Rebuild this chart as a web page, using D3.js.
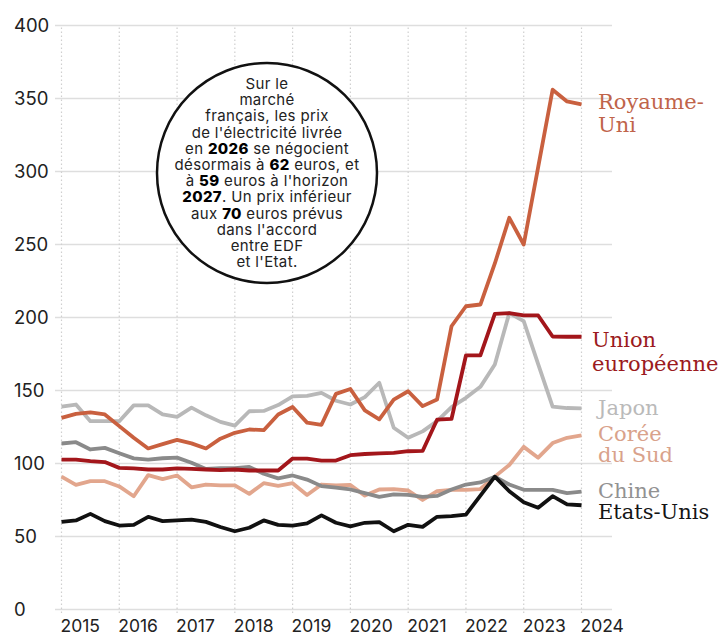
<!DOCTYPE html>
<html><head><meta charset="utf-8">
<script src="https://cdn.jsdelivr.net/npm/d3@7"></script>
<style>body{margin:0;background:#fff}</style>
</head><body>
<svg id="c" width="725" height="637"></svg>
<script>
// ---- data ----
const startYear = 2015; // quarterly series, first point = 2015 Q1
const yearTicks = [2015, 2016, 2017, 2018, 2019, 2020, 2021, 2022, 2023, 2024];
const valueTicks = [0, 50, 100, 150, 200, 250, 300, 350, 400];

const royaumeUni = [131.3,134,135,133.6,125.6,117.6,110.3,113.3,116.2,113.8,110.3,117,121,123.3,122.8,133.6,138.7,128,126.5,147.7,151,136.4,130.3,143.8,149.5,139.3,143.8,194,207.7,208.9,237,268.3,250,303,356,348,346];
const unionEuropeenne = [102.7,102.7,101.6,101,97,96.6,95.9,95.9,96.6,96.3,95.9,95.4,95.9,95.2,95.2,95.2,103.4,103.4,102,102,105.7,106.5,107,107.3,108.4,108.6,130,130.5,174,174,202.5,203,201.5,201.4,187,186.8,186.8];
const japon = [139,140.4,129,129,129,139.8,139.8,133.6,132,138.3,133,128.5,126,135.8,136,140,146,146.3,148.4,143,140.4,145.5,155.3,124.5,117.6,122,129,138.6,145,152.5,167.8,203,197.5,168,139,138,137.8];
const coreeDuSud = [91,85.3,87.9,87.9,84.3,77.6,92,89.3,91.8,83.7,85.6,85,85,79.2,86.5,84.7,86.5,78.4,85.6,85,85.3,78,82.2,82.5,81.5,75,81,82,82,82.5,91,99,111.4,104,114,117.6,119.2];
const chine = [113.7,114.6,109.6,110.7,107,103.5,102.7,103.6,104,100.5,96.3,96.8,96.8,97.7,93,89.8,91.8,89,84.5,83.5,82.2,79.7,77.2,78.8,78.5,77.2,77.8,82.2,85.6,87,91,85.6,82,82,82,79.7,80.7];
const etatsUnis = [60,61,65.5,60.5,57.5,58,63.5,60.5,61,61.5,60,56.5,53.6,56,61,58,57.5,59,64.5,59.4,57,59.4,59.8,53.6,58,56.6,63.5,64,65,78,91,81,73.5,69.7,77.6,72,71.4];

const annotationLines = [
  [["Sur le", false]],
  [["marché", false]],
  [["français, les prix", false]],
  [["de l'électricité livrée", false]],
  [["en ", false], ["2026", true], [" se négocient", false]],
  [["désormais à ", false], ["62", true], [" euros, et", false]],
  [["à ", false], ["59", true], [" euros à l'horizon", false]],
  [["2027", true], [". Un prix inférieur", false]],
  [["aux ", false], ["70", true], [" euros prévus", false]],
  [["dans l'accord", false]],
  [["entre EDF", false]],
  [["et l'Etat.", false]]
];

// ---- series styling ----
const series = [
  {name: ["Japon"], values: japon, color: "#b8b8b8", label: "#bababa", dy: 7, lx: 598},
  {name: ["Corée", "du Sud"], values: coreeDuSud, color: "#e2a68d", label: "#d9a28b", dy: 6, lx: 598, lh: 21},
  {name: ["Chine"], values: chine, color: "#8a8a8a", label: "#929292", dy: 6, lx: 598},
  {name: ["Royaume-", "Uni"], values: royaumeUni, color: "#c9603f", label: "#c0644a", dy: 5, lx: 598, lh: 23},
  {name: ["Union", "européenne"], values: unionEuropeenne, color: "#a3161b", label: "#9b1a20", dy: 10, lx: 592, lh: 24},
  {name: ["Etats-Unis"], values: etatsUnis, color: "#111111", label: "#151515", dy: 14, lx: 598}
];

const svg = d3.select("#c");
const x = d3.scaleLinear().domain([2015, 2024]).range([61.5, 581.5]);
const y = d3.scaleLinear().domain([0, 400]).range([609.5, 25.5]);
const tOf = i => startYear + i / 4;

// horizontal gridlines
svg.append("g").selectAll("line").data(valueTicks).join("line")
  .attr("x1", 55).attr("x2", 612)
  .attr("y1", d => y(d)).attr("y2", d => y(d))
  .attr("stroke", "#dedede").attr("stroke-width", 1.5);

// vertical dotted gridlines
svg.append("g").selectAll("line").data(yearTicks).join("line")
  .attr("x1", d => x(d)).attr("x2", d => x(d))
  .attr("y1", y(400) + 2).attr("y2", y(0) + 4)
  .attr("stroke", "#cfcfcf").attr("stroke-width", 1.2)
  .attr("stroke-dasharray", "1.5,2.5");

// y tick labels
svg.append("g").selectAll("text").data(valueTicks).join("text")
  .attr("x", 14).attr("y", d => y(d) + 6.5)
  .attr("font-family", "Inter, 'Open Sans', sans-serif")
  .attr("font-size", 18.5).attr("fill", "#222")
  .text(d => d);

// x tick labels
svg.append("g").selectAll("text").data(yearTicks).join("text")
  .attr("x", d => x(d) - 1).attr("y", 632)
  .attr("font-family", "Inter, 'Open Sans', sans-serif")
  .attr("font-size", 17.5).attr("fill", "#222")
  .text(d => d);

// annotation circle
const ann = svg.append("g");
ann.append("circle").attr("cx", 267).attr("cy", 173).attr("r", 110)
  .attr("fill", "#fff").attr("stroke", "#111").attr("stroke-width", 2.5);
const at = ann.append("g").attr("font-family", "Inter, 'Open Sans', sans-serif")
  .attr("font-size", 15).attr("letter-spacing", 0.35).attr("fill", "#222").attr("text-anchor", "middle");
annotationLines.forEach((segs, i) => {
  const t = at.append("text").attr("x", 267).attr("y", 89 + i * 16.2);
  segs.forEach(([s, b]) => t.append("tspan").attr("font-weight", b ? 800 : 400).attr("fill", b ? "#000" : "#222").text(s));
});

// lines
const line = d3.line().x((d, i) => x(tOf(i))).y(d => y(d));
svg.append("g").selectAll("path").data(series).join("path")
  .attr("d", d => line(d.values))
  .attr("fill", "none").attr("stroke", d => d.color)
  .attr("stroke-width", 3.8).attr("stroke-linejoin", "round").attr("stroke-linecap", "butt");

// series labels
const lg = svg.append("g").attr("font-family", "'DejaVu Serif', serif").attr("font-size", 21);
series.forEach(s => {
  const last = s.values[s.values.length - 1];
  const by = y(last) + s.dy;
  const t = lg.append("text").attr("fill", s.label);
  s.name.forEach((n, k) => t.append("tspan").attr("x", s.lx).attr("y", by + k * (s.lh || 22)).text(n));
});
</script>
</body></html>
